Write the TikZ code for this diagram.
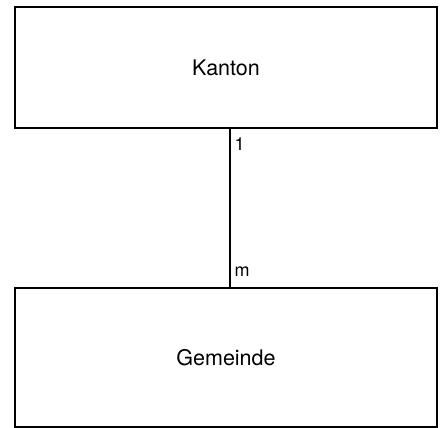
\documentclass[tikz,border=0pt]{standalone}
\usepackage{fontspec}
\setmainfont{TeX Gyre Heros}
\usetikzlibrary{positioning}

\tikzset{
    entity/.style={draw, line width=1.4pt, minimum width=422pt, outer sep=0pt, font=\fontsize{21.5}{24}\selectfont},
    card/.style={font=\fontsize{18}{20}\selectfont, inner sep=4pt}
}

\begin{document}
\begin{tikzpicture}[x=1pt,y=1pt,node distance=160pt]
    \useasboundingbox (0,0) rectangle (440,428);

    \node[entity, minimum height=121pt] (Kanton) at (226,360.5) {Kanton};
    \node[entity, minimum height=139pt, below=of Kanton] (Gemeinde) {Gemeinde};

    \draw[line width=1.4pt] ([xshift=4pt]Kanton.south) -- node[card, right, pos=0.1] (one) {1}
        node[card, right, pos=0.9] (many) {m} ([xshift=4pt]Gemeinde.north);
\end{tikzpicture}
\end{document}
